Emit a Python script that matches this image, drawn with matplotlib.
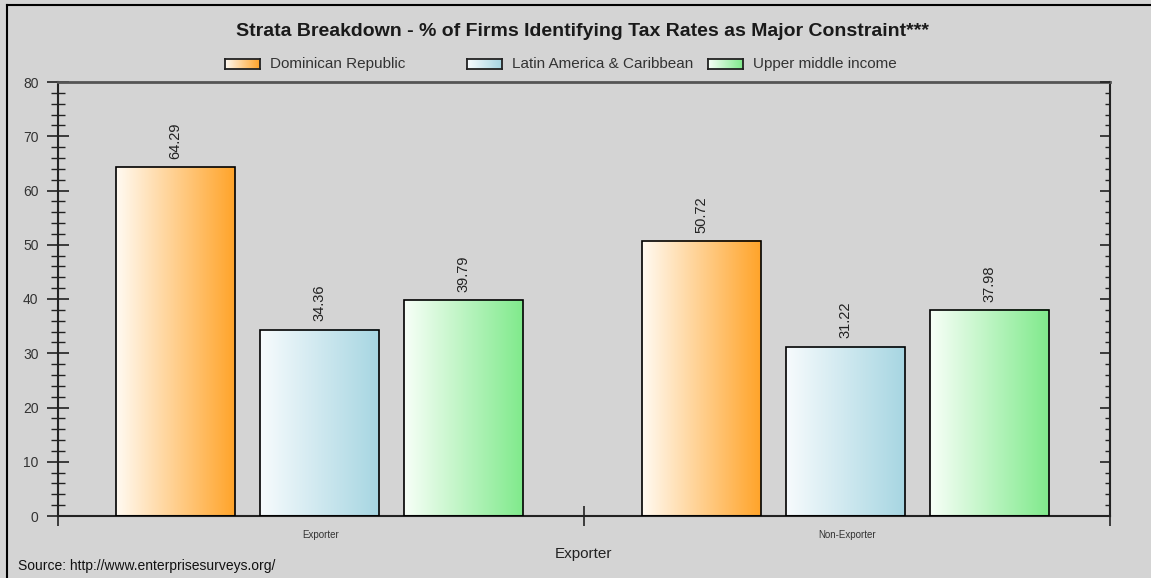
#!/usr/bin/env python3

"""
Strata breakdown: share of firms naming tax rates as a major constraint
"""

import numpy as np
import matplotlib
matplotlib.use("Agg")
import matplotlib.pyplot as plt
from matplotlib.colors import LinearSegmentedColormap
from matplotlib.ticker import MultipleLocator

plt.rcParams['font.family'] = ['Liberation Sans', 'DejaVu Sans']

categories = ["Exporter", "Non-Exporter"]
series = ["Dominican Republic", "Latin America & Caribbean", "Upper middle income"]
dominican = [64.29, 50.72]
latam = [34.36, 31.22]
upper_mid = [39.79, 37.98]

# left (pale) and right (full) colours of each gradient
shades = [("#fffaf2", "#ffa42a"), ("#f7fbfd", "#a7d6e2"), ("#f8fff8", "#80ea8c")]

BG = "#d4d4d4"


def gradient_fill(ax, bar, cmap):
  x0, y0 = bar.get_x(), bar.get_y()
  w, h = bar.get_width(), bar.get_height()
  grad = np.linspace(0, 1, 256).reshape(1, -1)
  ax.imshow(grad, cmap=cmap, aspect="auto", extent=(x0, x0 + w, y0, y0 + h),
            zorder=2, interpolation="bilinear")


def plot_bars(ax, values_list):
  width = 0.226
  offset = 0.2738
  xs = np.arange(len(categories)) + 0.5
  for i, (vals, (c0, c1)) in enumerate(zip(values_list, shades)):
    cmap = LinearSegmentedColormap.from_list("g%d" % i, [c0, c1])
    pos = xs + (i - 1) * offset - 0.003
    bars = ax.bar(pos, vals, width, facecolor="none", edgecolor="black",
                  linewidth=1.2, zorder=3)
    for bar, v in zip(bars, vals):
      gradient_fill(ax, bar, cmap)
      ax.text(bar.get_x() + bar.get_width() / 2, v + 1.5, "%.2f" % v,
              rotation=90, ha="center", va="bottom", fontsize=10.5, color="#222222")


def draw_legend(fig):
  grad = np.linspace(0, 1, 64).reshape(1, -1)
  W, H = 1151.0, 578.0
  for i, (name, (c0, c1)) in enumerate(zip(series, shades)):
    x = 225 + 241.5 * i
    lax = fig.add_axes([x / W, 1 - 69 / H, 35 / W, 10 / H])
    cmap = LinearSegmentedColormap.from_list("l%d" % i, [c0, c1])
    lax.imshow(grad, cmap=cmap, aspect="auto")
    lax.set_xticks([])
    lax.set_yticks([])
    for s in lax.spines.values():
      s.set_linewidth(1.3)
      s.set_color("#222222")
    fig.text((x + 45) / W, 1 - 64 / H, name, fontsize=11, color="#333333",
             va="center", ha="left")


if __name__ == "__main__":

  fig = plt.figure(figsize=(11.51, 5.78), dpi=100, facecolor=BG)
  ax = fig.add_axes([58 / 1151, 1 - 516 / 578, (1110 - 58) / 1151, (516 - 82) / 578])
  ax.set_facecolor(BG)

  plot_bars(ax, [dominican, latam, upper_mid])

  ax.set_xlim(0, 2)
  ax.set_ylim(0, 80)
  ax.yaxis.set_major_locator(MultipleLocator(10))
  ax.yaxis.set_minor_locator(MultipleLocator(2))
  ax.set_xticks([0, 1, 2])
  ax.set_xticks([0.5, 1.5], categories, minor=True)
  ax.set_xticklabels([])

  ax.tick_params(axis="x", which="major", direction="inout", length=14, width=1.2,
                 color="#222222")
  ax.tick_params(axis="x", which="minor", length=0, labelsize=7, pad=10,
                 labelcolor="#333333")
  ax.tick_params(axis="y", which="major", direction="inout", length=16, width=1.2,
                 labelsize=10, labelcolor="#333333", color="#222222", pad=6)
  ax.tick_params(axis="y", which="minor", direction="inout", length=10, width=1.0,
                 color="#222222")

  # a second view of the y axis so the right side gets inward ticks only
  rax = ax.twinx()
  rax.set_ylim(0, 80)
  rax.yaxis.set_major_locator(MultipleLocator(10))
  rax.yaxis.set_minor_locator(MultipleLocator(2))
  rax.tick_params(axis="y", which="major", direction="in", length=7, width=1.2,
                  labelright=False, color="#222222")
  rax.tick_params(axis="y", which="minor", direction="in", length=3.5, width=1.0,
                  color="#222222")
  rax.spines[:].set_visible(False)
  ax.tick_params(axis="y", which="both", right=False)

  for side in ["left", "bottom", "right"]:
    ax.spines[side].set_color("#222222")
    ax.spines[side].set_linewidth(1.5)
  ax.spines["top"].set_color("#555555")
  ax.spines["top"].set_linewidth(2)

  ax.set_xlabel("Exporter", fontsize=11, color="#222222", labelpad=5)

  fig.text(583 / 1151, 1 - 31 / 578,
           "Strata Breakdown - % of Firms Identifying Tax Rates as Major Constraint***",
           ha="center", va="center", fontsize=14, fontweight="bold", color="#1a1a1a")
  fig.text(18 / 1151, 1 - 566 / 578, "Source: http://www.enterprisesurveys.org/",
           ha="left", va="center", fontsize=10, color="#111111")

  draw_legend(fig)

  # frame lines along the top and left edges
  fig.add_artist(plt.Line2D([7 / 1151, 1], [1 - 5 / 578, 1 - 5 / 578], color="black",
                            linewidth=1.5, transform=fig.transFigure))
  fig.add_artist(plt.Line2D([7 / 1151, 7 / 1151], [0, 1 - 5 / 578], color="black",
                            linewidth=1.5, transform=fig.transFigure))

  fig.savefig("out.png", dpi=100, facecolor=BG)
